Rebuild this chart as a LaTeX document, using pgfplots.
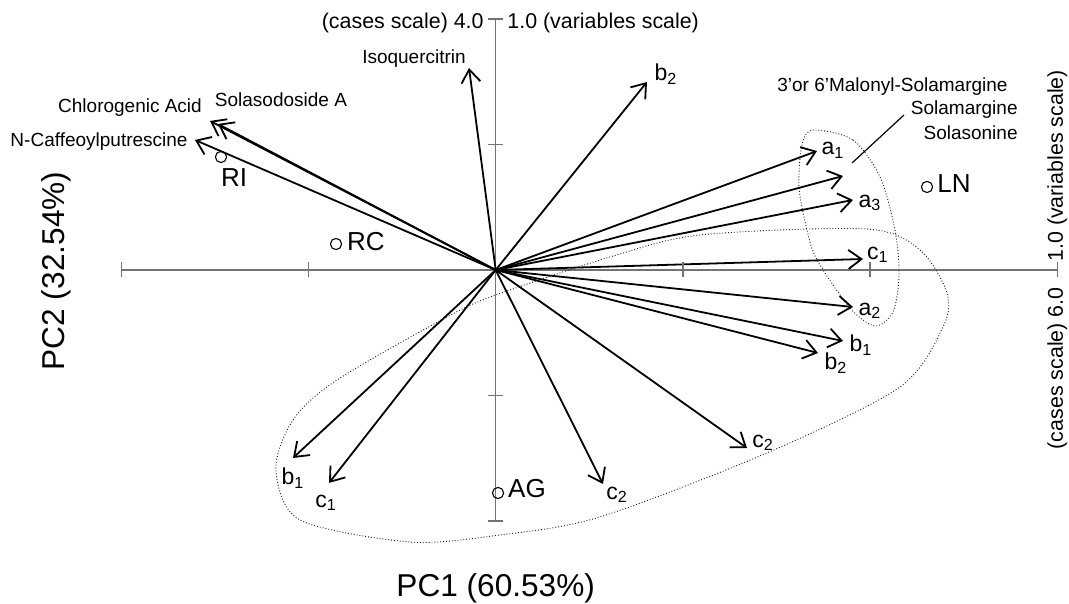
\documentclass[border=0pt]{standalone}
\usepackage{fontspec}
\setmainfont{Liberation Sans}
\usepackage{pgfplots}
\pgfplotsset{compat=1.18}
\usetikzlibrary{arrows.meta}
\newcommand{\fvn}{\fontsize{9.5}{11}\selectfont}
\newcommand{\fsn}{\fontsize{10.7}{12}\selectfont}
\newcommand{\fln}{\fontsize{11.5}{13}\selectfont}
\newcommand{\fcn}{\fontsize{13}{15}\selectfont}
\begin{document}
\begin{tikzpicture}
\begin{axis}[
  scale only axis, width=534.5pt, height=302pt,
  xmin=-5.296, xmax=6.125, ymin=-5.323, ymax=4.303,
  hide axis, clip=false,
]
% axes
\addplot[gray!90!black, line width=0.75pt] coordinates {(-4,0) (6,0)};
\addplot[gray!90!black, line width=0.75pt] coordinates {(0,-4) (0,4)};
\addplot[gray!90!black, only marks, mark=|, mark size=3.75pt, mark options={line width=0.75pt}] coordinates {(-4,0)(-2,0)(2,0)(4,0)(6,0)};
\addplot[gray!90!black, only marks, mark=-, mark size=3.75pt, mark options={line width=0.75pt}] coordinates {(0,-4)(0,-2)(0,2)(0,4)};
% loadings
\addplot[black, line width=0.9pt, -{Straight Barb[length=6.5pt,width=9.5pt]},
  quiver={u=\thisrow{u}, v=\thisrow{v}}] table {
x y u v
0 0 -0.285 3.219
0 0 -3.052 2.375
0 0 -2.967 2.327
0 0 -3.213 2.072
0 0 1.616 2.996
0 0 3.433 1.896
0 0 3.710 1.498
0 0 3.817 1.116
0 0 3.924 0.175
0 0 3.817 -0.590
0 0 3.710 -1.131
0 0 3.443 -1.323
0 0 2.685 -2.837
0 0 1.146 -3.410
0 0 -2.166 -2.996
0 0 -1.781 -3.394
};
% cases
\addplot[black, only marks, mark=o, mark size=2.8pt, mark options={line width=0.55pt, fill=white}] coordinates {
(-2.935,1.801) (-1.706,0.414) (4.608,1.323) (0.025,-3.554)};
% ellipses
\draw[black!90, densely dotted, line width=0.45pt] plot[smooth cycle] coordinates {
(axis cs:0.003,-0.398) (axis cs:-0.520,-0.749) (axis cs:-1.696,-1.753) (axis cs:-2.166,-2.390)
(axis cs:-2.348,-3.187) (axis cs:-2.091,-3.984) (axis cs:-0.916,-4.335) (axis cs:0.046,-4.223)
(axis cs:1.114,-3.936) (axis cs:2.898,-2.916) (axis cs:4.319,-1.865) (axis cs:4.779,-0.908)
(axis cs:4.821,-0.367) (axis cs:4.533,0.319) (axis cs:3.967,0.653) (axis cs:2.183,0.558)
(axis cs:1.221,0.207)};
\draw[black!90, densely dotted, line width=0.45pt] plot[smooth cycle] coordinates {
(axis cs:3.390,2.231) (axis cs:3.817,2.072) (axis cs:4.106,1.482) (axis cs:4.266,0.637)
(axis cs:4.309,-0.080) (axis cs:4.245,-0.669) (axis cs:4.052,-0.892) (axis cs:3.785,-0.606)
(axis cs:3.433,0.159) (axis cs:3.326,0.637) (axis cs:3.240,1.323) (axis cs:3.272,1.992)};
% leader line
\draw[black, line width=0.6pt] (axis cs:4.362,2.470) -- (axis cs:3.807,1.705);
% variable names
\node[font=\fvn] at (axis cs:-0.873,3.363) {Isoquercitrin};
\node[font=\fvn] at (axis cs:-3.907,2.582) {Chlorogenic Acid};
\node[font=\fvn] at (axis cs:-2.294,2.709) {Solasodoside A};
\node[font=\fvn] at (axis cs:-4.238,2.040) {N-Caffeoylputrescine};
\node[font=\fvn, anchor=east, inner sep=0pt] at (axis cs:5.473,2.916) {3’or 6’Malonyl-Solamargine};
\node[font=\fvn, anchor=east, inner sep=0pt] at (axis cs:5.580,2.550) {Solamargine};
\node[font=\fvn, anchor=east, inner sep=0pt] at (axis cs:5.580,2.183) {Solasonine};
% short labels
\node[font=\fln] at (axis cs:1.819,3.124) {b\textsubscript{2}};
\node[font=\fln] at (axis cs:3.604,1.912) {a\textsubscript{1}};
\node[font=\fln] at (axis cs:3.999,1.068) {a\textsubscript{3}};
\node[font=\fln] at (axis cs:4.084,0.239) {c\textsubscript{1}};
\node[font=\fln] at (axis cs:3.999,-0.653) {a\textsubscript{2}};
\node[font=\fln] at (axis cs:3.903,-1.195) {b\textsubscript{1}};
\node[font=\fln] at (axis cs:3.636,-1.482) {b\textsubscript{2}};
\node[font=\fln] at (axis cs:2.856,-2.757) {c\textsubscript{2}};
\node[font=\fln] at (axis cs:1.296,-3.586) {c\textsubscript{2}};
\node[font=\fln] at (axis cs:-2.166,-3.315) {b\textsubscript{1}};
\node[font=\fln] at (axis cs:-1.813,-3.713) {c\textsubscript{1}};
% case labels
\node[font=\fcn] at (axis cs:-2.796,1.466) {RI};
\node[font=\fcn] at (axis cs:-1.386,0.446) {RC};
\node[font=\fcn] at (axis cs:4.896,1.371) {LN};
\node[font=\fcn] at (axis cs:0.334,-3.490) {AG};
% scale labels
\node[font=\fsn, anchor=east, inner sep=0pt] at (axis cs:-0.125,3.936) {(cases scale) 4.0};
\node[font=\fsn, anchor=west, inner sep=0pt] at (axis cs:0.121,3.936) {1.0 (variables scale)};
\node[font=\fsn, anchor=west, rotate=90, inner sep=0pt] at (axis cs:6.0,0.127) {1.0 (variables scale)};
\node[font=\fsn, anchor=east, rotate=90, inner sep=0pt] at (axis cs:6.0,-0.271) {(cases scale) 6.0};
% axis titles
\node[font=\fontsize{15.8}{18}\selectfont] at (axis cs:0,-5.068) {PC1 (60.53\%)};
\node[font=\fontsize{15.8}{18}\selectfont, rotate=90] at (axis cs:-4.698,-0.016) {PC2 (32.54\%)};
\end{axis}
\pgfresetboundingbox
\useasboundingbox (current axis.south west) rectangle (current axis.north east);
\end{tikzpicture}
\end{document}
